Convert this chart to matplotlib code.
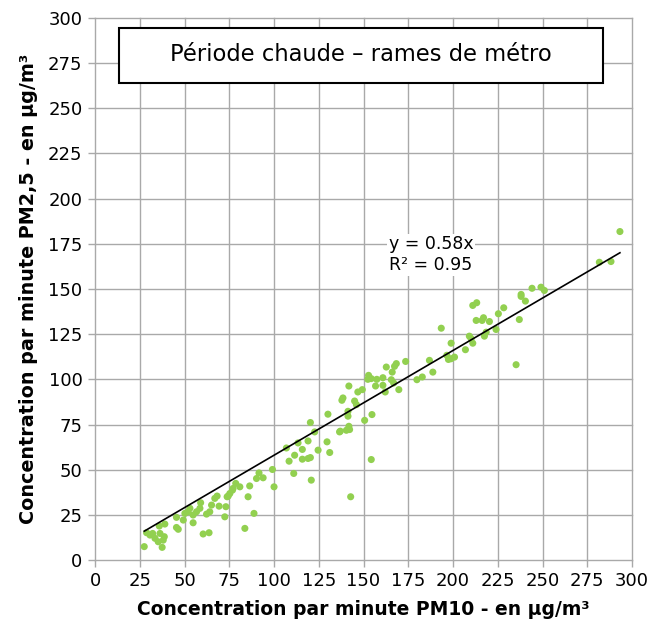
import numpy as np
import matplotlib
matplotlib.use("Agg")
from matplotlib import pyplot as plt
from matplotlib.patches import Rectangle

plt.rcParams['font.family'] = ['DejaVu Sans']

# PM10 (x) and PM2.5 (y) per-minute concentrations, µg/m³
pm10 = [27.5, 28.8, 30.7, 32.2, 33.5, 35.3, 38.1, 37.5, 38.7, 35.9, 39.0, 36.3,
        45.5, 45.5, 46.5, 49.3, 50.2, 52.0, 54.8, 54.8, 53.0, 56.7, 58.6, 59.0,
        60.4, 63.7, 62.3, 65.1, 64.1, 66.9, 68.2, 69.3, 72.5, 73.1, 74.4, 75.3,
        77.1, 78.6, 73.8, 76.8, 80.9, 83.7, 88.8, 85.5, 86.4, 91.6, 93.9, 90.2,
        99.1, 100.0, 106.9, 108.4, 111.0, 111.5, 113.4, 115.8, 115.8, 119.0,
        119.0, 120.3, 120.3, 122.7, 120.8, 124.6, 129.6, 131.1, 130.1, 136.6,
        142.8, 154.3, 137.0, 140.4, 141.8, 142.2, 141.3, 141.3, 137.9, 138.5,
        141.8, 145.0, 146.0, 146.8, 149.3, 150.6, 154.7, 152.8, 152.4, 154.3,
        156.7, 157.4, 160.8, 160.8, 162.1, 162.7, 166.0, 167.3, 168.3, 165.5,
        166.8, 169.7, 173.5, 179.8, 182.8, 186.8, 188.7, 193.4, 196.5, 197.4,
        198.9, 198.9, 200.8, 206.9, 209.1, 210.1, 211.0, 211.0, 213.2, 212.9,
        216.2, 217.0, 220.3, 217.5, 218.5, 224.0, 225.3, 228.3, 235.2, 237.0,
        238.0, 238.0, 240.4, 244.1, 249.1, 251.0, 281.7, 288.2, 293.2]
pm25 = [7.4, 15.1, 13.8, 14.7, 12.0, 10.1, 11.0, 7.0, 12.9, 18.8, 19.9, 14.7,
        23.6, 18.0, 17.0, 22.1, 25.8, 26.7, 24.9, 20.6, 28.6, 26.7, 28.6, 31.7,
        14.4, 15.1, 25.4, 30.4, 26.7, 34.1, 35.4, 29.8, 23.9, 29.5, 35.4, 36.8,
        39.6, 42.4, 35.0, 38.7, 40.5, 17.5, 25.8, 35.0, 41.0, 48.2, 45.5, 45.1,
        50.1, 40.5, 62.0, 54.7, 47.9, 58.0, 64.8, 61.2, 55.8, 65.9,
        56.2, 56.7, 76.1, 70.9, 44.2, 60.8, 65.4, 59.5, 80.7, 70.9,
        35.0, 55.6, 71.3, 71.8, 74.0, 72.2, 79.6, 82.3, 88.4, 89.7,
        96.3, 88.0, 86.0, 93.0, 94.3, 77.3, 80.5, 102.2, 100.0, 100.4,
        96.3, 100.0, 100.9, 96.7, 93.0, 106.8, 104.0, 107.2, 108.7, 99.8,
        98.0, 94.3, 109.9, 99.8, 101.3, 110.5, 104.0, 128.3, 113.3, 111.0,
        111.4, 120.0, 112.3, 116.4, 123.9, 122.5, 120.0, 140.9, 142.4, 132.6,
        132.6, 134.1, 132.0, 123.9, 126.1, 127.6, 136.3, 139.6, 108.1, 133.1,
        147.0, 145.9, 143.3, 150.4, 151.0, 149.2, 164.8, 165.2, 181.8]

slope = 0.58
trend_x = [27.5, 293.2]
ticks = list(range(0, 301, 25))

fig = plt.figure(figsize=(6.53, 6.25), dpi=100)
ax = fig.add_axes([0.1455, 0.104, 0.8225, 0.8672])

ax.set_xlim(0, 300)
ax.set_ylim(0, 300)
ax.set_xticks(ticks)
ax.set_yticks(ticks)
ax.grid(True, color='#a9a9a9', linewidth=1.0)
for gl in ax.get_xgridlines() + ax.get_ygridlines():
    gl.set_clip_on(False)
ax.set_axisbelow(True)
for s in ax.spines.values():
    s.set_visible(False)
ax.tick_params(axis='both', length=5, width=1.0, color='#a9a9a9',
               labelsize=13, labelcolor='black', pad=4)

ax.scatter(pm10, pm25, s=26, color='#92d050', edgecolors='none', zorder=3)
ax.plot(trend_x, [slope * v for v in trend_x], color='black', linewidth=1.2, zorder=4)

ax.text(164, 169, 'y = 0.58x\nR² = 0.95', fontsize=12.5, color='black',
        ha='left', va='center', linespacing=1.25,
        bbox=dict(facecolor='white', edgecolor='none', pad=1), zorder=5)

# title box
ax.add_patch(Rectangle((13.4, 264.1), 270.5, 30.4, facecolor='white',
                       edgecolor='black', linewidth=1.5, zorder=6))
ax.text(148.6, 279.6, 'Période chaude \u2013 rames de métro', fontsize=16.3,
        ha='center', va='center', color='black', zorder=7)

ax.set_xlabel('Concentration par minute PM10 - en µg/m³', fontsize=13.5,
              fontweight='bold', labelpad=7)
ax.set_ylabel('Concentration par minute PM2,5 - en µg/m³', fontsize=13.8,
              fontweight='bold', labelpad=7)

fig.savefig('out.png', dpi=100)
